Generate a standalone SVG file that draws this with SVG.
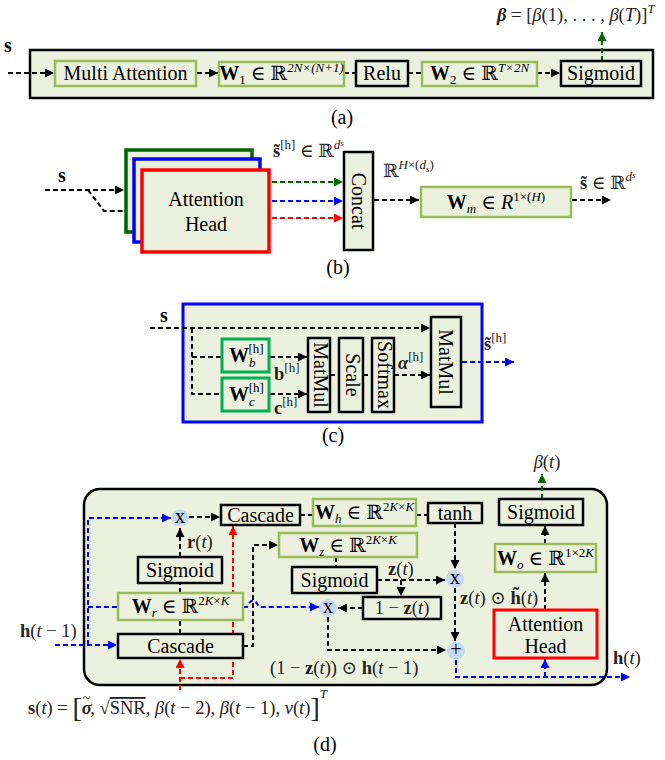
<svg xmlns="http://www.w3.org/2000/svg" width="665" height="760" viewBox="0 0 665 760" font-family="'Liberation Serif', 'DejaVu Serif', serif">
<defs>
<style>
.blk{fill:#ebf1de;stroke:#000;stroke-width:2.5}
.grn{fill:#ebf1de;stroke:#9bbb59;stroke-width:2.5}
.gr2{fill:#ebf1de;stroke:#00b050;stroke-width:3}
.t{font-family:'Liberation Serif','DejaVu Serif',serif;font-size:20px;fill:#000}
.m{font-family:'Liberation Serif','DejaVu Serif',serif;font-size:18.5px;fill:#222}
.c{text-anchor:middle}
.d{fill:none;stroke:#000;stroke-width:2;stroke-dasharray:5 3}
.dg{fill:none;stroke:#006400;stroke-width:2;stroke-dasharray:5 3}
.db{fill:none;stroke:#0000ff;stroke-width:2;stroke-dasharray:5 3}
.dr{fill:none;stroke:#ff0000;stroke-width:2;stroke-dasharray:5 3}
.circ{fill:#c6d9f1}
.b{font-weight:bold}
.i{font-style:italic}
.s{font-size:13px}
</style>
<marker id="ak" viewBox="0 0 10 10" refX="10" refY="5" markerWidth="10" markerHeight="9" markerUnits="userSpaceOnUse" orient="auto"><path d="M0,0 L10,5 L0,10 z" fill="#000"/></marker>
<marker id="ag" viewBox="0 0 10 10" refX="10" refY="5" markerWidth="10" markerHeight="9" markerUnits="userSpaceOnUse" orient="auto"><path d="M0,0 L10,5 L0,10 z" fill="#006400"/></marker>
<marker id="ab" viewBox="0 0 10 10" refX="10" refY="5" markerWidth="10" markerHeight="9" markerUnits="userSpaceOnUse" orient="auto"><path d="M0,0 L10,5 L0,10 z" fill="#0000ff"/></marker>
<marker id="ar" viewBox="0 0 10 10" refX="10" refY="5" markerWidth="10" markerHeight="9" markerUnits="userSpaceOnUse" orient="auto"><path d="M0,0 L10,5 L0,10 z" fill="#ff0000"/></marker>
</defs>
<rect width="665" height="760" fill="#fff"/>

<!-- ===== Panel (a) ===== -->
<g id="a-frame"><rect x="30" y="50" width="623" height="48" class="blk" stroke-width="2"/></g>
<g id="a-connectors">
<line x1="8" y1="73" x2="54" y2="73" class="d" marker-end="url(#ak)"/>
<line x1="197" y1="73" x2="218" y2="73" class="d" marker-end="url(#ak)"/>
<line x1="344" y1="73" x2="356" y2="73" class="d"/>
<line x1="408" y1="73" x2="422" y2="73" class="d"/>
<line x1="537" y1="73" x2="560" y2="73" class="d" marker-end="url(#ak)"/>
<line x1="602" y1="61" x2="602" y2="32" class="dg" marker-end="url(#ag)"/>
</g>
<g id="a-s"><text x="4" y="52" class="t b">s</text></g>
<g id="a-multi"><rect x="55" y="61" width="141" height="25" class="grn" stroke-width="3"/><text x="125.5" y="80" class="t c">Multi Attention</text></g>
<g id="a-w1"><rect x="219" y="62" width="125" height="24" class="grn" stroke-width="2"/><text x="281.5" y="80" class="t c"><tspan class="b">W</tspan><tspan class="s" dy="4">1</tspan><tspan dy="-4"> ∈ ℝ</tspan><tspan class="s i" dy="-8">2N×(N+1)</tspan></text></g>
<g id="a-relu"><rect x="356" y="61" width="52" height="25" class="blk"/><text x="382" y="80" class="t c">Relu</text></g>
<g id="a-w2"><rect x="422" y="62" width="115" height="24" class="grn" stroke-width="2"/><text x="479.5" y="80" class="t c"><tspan class="b">W</tspan><tspan class="s" dy="4">2</tspan><tspan dy="-4"> ∈ ℝ</tspan><tspan class="s i" dy="-8">T×2N</tspan></text></g>
<g id="a-sigmoid"><rect x="561" y="61" width="80" height="25" class="blk"/><text x="601" y="80" class="t c">Sigmoid</text></g>
<g id="a-beta"><text x="497" y="21" class="m"><tspan class="b i">β</tspan> = [<tspan class="i">β</tspan>(1), . . . , <tspan class="i">β</tspan>(<tspan class="i">T</tspan>)]<tspan class="s i" dy="-8">T</tspan></text></g>
<text x="342" y="124" class="t c" font-size="19">(a)</text>

<!-- ===== Panel (b) ===== -->
<g id="b-connectors">
<line x1="45" y1="190" x2="124" y2="190" class="d" marker-end="url(#ak)"/>
<polyline points="88,190 104,211 141,211" class="d" marker-end="url(#ak)"/>
<line x1="272" y1="182" x2="343" y2="182" class="dg" marker-end="url(#ag)"/>
<line x1="272" y1="201" x2="343" y2="201" class="db" marker-end="url(#ab)"/>
<line x1="272" y1="218" x2="343" y2="218" class="dr" marker-end="url(#ar)"/>
<line x1="374" y1="200" x2="419" y2="200" class="d" marker-end="url(#ak)"/>
<line x1="572" y1="200" x2="611" y2="200" class="d" marker-end="url(#ak)"/>
</g>
<g id="b-s"><text x="58" y="182" class="t b">s</text></g>
<g id="b-heads">
<rect x="126" y="150" width="126" height="82" fill="#ebf1de" stroke="#006400" stroke-width="3.5"/>
<rect x="134" y="159" width="126" height="83" fill="#ebf1de" stroke="#0000ff" stroke-width="3.5"/>
<rect x="142" y="170" width="127" height="82" fill="#ebf1de" stroke="#ff0000" stroke-width="3.5"/>
<text x="206" y="206" class="t c" font-size="21">Attention</text>
<text x="206" y="231" class="t c" font-size="21">Head</text>
</g>
<g id="b-lbl1"><text x="273" y="157" class="m"><tspan class="b">s̃</tspan><tspan class="s" dy="-8">[h]</tspan><tspan dy="8"> ∈ ℝ</tspan><tspan class="s i" dy="-8">d<tspan font-size="9" dy="-3">s</tspan></tspan></text></g>
<g id="b-concat"><rect x="344" y="152" width="29" height="98" class="blk" stroke-width="3"/><text transform="translate(358.5,201) rotate(90)" x="0" y="7" class="t c" font-size="22">Concat</text></g>
<g id="b-lbl2"><text x="383" y="177" class="m">ℝ<tspan class="s i" dy="-8">H</tspan><tspan class="s">×(</tspan><tspan class="s i">d</tspan><tspan font-size="9" class="i" dy="3">s</tspan><tspan class="s" dy="-3">)</tspan></text></g>
<g id="b-wm"><rect x="421" y="187" width="150" height="30" class="grn" stroke-width="3"/><text x="496" y="209" class="t c"><tspan class="b">W</tspan><tspan class="s i" dy="4">m</tspan><tspan dy="-4"> ∈ </tspan><tspan class="i">R</tspan><tspan class="s" dy="-8">1×(</tspan><tspan class="s i">H</tspan><tspan class="s">)</tspan></text></g>
<g id="b-lbl3"><text x="580" y="189" class="m"><tspan class="b">s̃</tspan> ∈ ℝ<tspan class="s i" dy="-8">d<tspan font-size="9" dy="-3">s</tspan></tspan></text></g>
<text x="338" y="274" class="t c" font-size="19">(b)</text>

<!-- ===== Panel (c) ===== -->
<g id="c-frame"><rect x="183" y="304" width="299" height="118" fill="#ebf1de" stroke="#0000ff" stroke-width="3"/></g>
<g id="c-connectors">
<line x1="150" y1="328" x2="430" y2="328" class="d" marker-end="url(#ak)"/>
<polyline points="192,328 192,394 222,394" class="d"/>
<line x1="192" y1="357" x2="222" y2="357" class="d"/>
<line x1="270" y1="357" x2="307" y2="357" class="d" marker-end="url(#ak)"/>
<line x1="270" y1="394" x2="307" y2="394" class="d" marker-end="url(#ak)"/>
<line x1="330" y1="375" x2="339" y2="375" class="d"/>
<line x1="363" y1="375" x2="372" y2="375" class="d"/>
<line x1="394" y1="375" x2="430" y2="375" class="d" marker-end="url(#ak)"/>
<line x1="462" y1="362" x2="514" y2="362" class="db" marker-end="url(#ab)"/>
</g>
<g id="c-s"><text x="160" y="322" class="t b">s</text></g>
<g id="c-wb"><rect x="222" y="339" width="47" height="33" class="gr2"/><text x="229" y="362" class="t"><tspan class="b">W</tspan><tspan class="s i" dy="5">b</tspan><tspan class="s" dx="-7" dy="-14">[h]</tspan></text></g>
<g id="c-wc"><rect x="222" y="378" width="47" height="33" class="gr2"/><text x="229" y="401" class="t"><tspan class="b">W</tspan><tspan class="s i" dy="5">c</tspan><tspan class="s" dx="-6" dy="-14">[h]</tspan></text></g>
<g id="c-lbls">
<text x="274" y="380" class="m"><tspan class="b">b</tspan><tspan class="s" dy="-8">[h]</tspan></text>
<text x="274" y="414" class="m"><tspan class="b">c</tspan><tspan class="s" dy="-8">[h]</tspan></text>
<text x="398" y="369" class="m"><tspan class="b i">α</tspan><tspan class="s" dy="-8">[h]</tspan></text>
<text x="484" y="350" class="m"><tspan class="b">s̃</tspan><tspan class="s" dy="-8">[h]</tspan></text>
</g>
<g id="c-matmul1"><rect x="308" y="338" width="22" height="74" class="blk" stroke-width="3"/><text transform="translate(319,375) rotate(90)" y="5.5" class="t c" font-size="16">MatMul</text></g>
<g id="c-scale"><rect x="339" y="338" width="24" height="74" class="blk" stroke-width="3"/><text transform="translate(351,375) rotate(90)" y="5.5" class="t c" font-size="16">Scale</text></g>
<g id="c-softmax"><rect x="372" y="338" width="22" height="74" class="blk" stroke-width="3"/><text transform="translate(383,375) rotate(90)" y="5.5" class="t c" font-size="16">Softmax</text></g>
<g id="c-matmul2"><rect x="431" y="317" width="30" height="90" class="blk" stroke-width="3"/><text transform="translate(446,362) rotate(90)" y="7" class="t c" font-size="20">MatMul</text></g>
<text x="333" y="442" class="t c" font-size="19">(c)</text>

<!-- ===== Panel (d) ===== -->
<g id="d-frame"><rect x="84" y="489" width="523" height="196" rx="16" class="blk" stroke-width="1.5"/></g>
<g id="d-connectors">
<line x1="189" y1="517" x2="220" y2="517" class="d" marker-end="url(#ak)"/>
<line x1="300" y1="515" x2="313" y2="515" class="d"/>
<line x1="416" y1="515" x2="428" y2="515" class="d"/>
<line x1="455" y1="523" x2="455" y2="569" class="d" marker-end="url(#ak)"/>
<line x1="180" y1="634" x2="180" y2="620" class="d"/>
<line x1="180" y1="593" x2="180" y2="583" class="d"/>
<line x1="180" y1="557" x2="180" y2="528" class="d" marker-end="url(#ak)"/>
<polyline points="243,646 253,646 253,545 278,545" class="d" marker-end="url(#ak)"/>
<line x1="336" y1="557" x2="336" y2="567" class="d"/>
<line x1="377" y1="580" x2="445" y2="580" class="d" marker-end="url(#ak)"/>
<line x1="401" y1="580" x2="401" y2="596" class="d" marker-end="url(#ak)"/>
<line x1="363" y1="608" x2="338" y2="608" class="d" marker-end="url(#ak)"/>
<polyline points="328,617 328,650 446,650" class="d" marker-end="url(#ak)"/>
<line x1="455" y1="588" x2="455" y2="641" class="d" marker-end="url(#ak)"/>
<line x1="545" y1="610" x2="545" y2="573" class="d" marker-end="url(#ak)"/>
<line x1="545" y1="544" x2="545" y2="526" class="d" marker-end="url(#ak)"/>
<line x1="542" y1="499" x2="542" y2="474" class="dg" marker-end="url(#ag)"/>
<line x1="55" y1="645" x2="117" y2="645" class="db" marker-end="url(#ab)"/>
<polyline points="88,645 88,518 171,518" class="db" marker-end="url(#ab)"/>
<line x1="88" y1="607" x2="118" y2="607" class="db"/>
<path d="M243,607 L247,607 Q253,594 259,607 L319,607" class="db" marker-end="url(#ab)"/>
<polyline points="456,660 456,677 630,677" class="db" marker-end="url(#ab)"/>
<line x1="545" y1="677" x2="545" y2="659" class="db" marker-end="url(#ab)"/>
<line x1="180" y1="690" x2="180" y2="659" class="dr" marker-end="url(#ar)"/>
<polyline points="180,678 233,678 233,526" class="dr" marker-end="url(#ar)"/>
</g>
<g id="d-xr"><circle cx="180" cy="518" r="8.5" class="circ"/><text x="180" y="522.5" class="t c" font-size="14">x</text></g>
<g id="d-cascade-top"><rect x="221" y="505" width="79" height="20" class="blk"/><text x="260.5" y="522" class="t c" font-size="21">Cascade</text></g>
<g id="d-wh"><rect x="313" y="499" width="103" height="27" class="grn"/><text x="364.5" y="519" class="t c"><tspan class="b">W</tspan><tspan class="s i" dy="4">h</tspan><tspan dy="-4"> ∈ ℝ</tspan><tspan class="s" dy="-8">2</tspan><tspan class="s i">K</tspan><tspan class="s">×</tspan><tspan class="s i">K</tspan></text></g>
<g id="d-tanh"><rect x="428" y="503" width="54" height="20" class="blk"/><text x="455" y="520" class="t c" font-size="22">tanh</text></g>
<g id="d-sigmoid-out"><rect x="499" y="499" width="84" height="26" class="blk"/><text x="541" y="519" class="t c" font-size="21">Sigmoid</text></g>
<g id="d-beta"><text x="547" y="468" class="m c"><tspan class="i">β</tspan>(<tspan class="i">t</tspan>)</text></g>
<g id="d-wo"><rect x="495" y="544" width="101" height="28" class="grn"/><text x="545.5" y="565" class="t c"><tspan class="b">W</tspan><tspan class="s i" dy="4">o</tspan><tspan dy="-4"> ∈ ℝ</tspan><tspan class="s" dy="-8">1×2</tspan><tspan class="s i">K</tspan></text></g>
<g id="d-att"><rect x="494" y="610" width="103" height="48" fill="#ebf1de" stroke="#ff0000" stroke-width="3"/><text x="545.5" y="631" class="t c">Attention</text><text x="545.5" y="653" class="t c">Head</text></g>
<g id="d-wz"><rect x="279" y="533" width="138" height="24" class="grn"/><text x="348" y="552" class="t c"><tspan class="b">W</tspan><tspan class="s i" dy="4">z</tspan><tspan dy="-4"> ∈ ℝ</tspan><tspan class="s" dy="-8">2</tspan><tspan class="s i">K</tspan><tspan class="s">×</tspan><tspan class="s i">K</tspan></text></g>
<g id="d-sigmoid-z"><rect x="292" y="567" width="85" height="26" class="blk"/><text x="334.5" y="587" class="t c" font-size="21">Sigmoid</text></g>
<g id="d-xz"><circle cx="455" cy="579" r="9" class="circ"/><text x="455" y="583.5" class="t c" font-size="14">x</text></g>
<g id="d-1mz"><rect x="363" y="597" width="78" height="22" class="blk"/><text x="402" y="614" class="m c">1 − <tspan class="b">z</tspan>(<tspan class="i">t</tspan>)</text></g>
<g id="d-x2"><circle cx="328" cy="608" r="9" class="circ"/><text x="328" y="612.5" class="t c" font-size="14">x</text></g>
<g id="d-plus"><circle cx="456" cy="651" r="9" class="circ"/><text x="456" y="655.5" class="t c" font-size="14">+</text></g>
<g id="d-cascade-bot"><rect x="118" y="634" width="125" height="24" class="blk"/><text x="180.5" y="653" class="t c" font-size="21">Cascade</text></g>
<g id="d-wr"><rect x="118" y="593" width="125" height="27" class="grn"/><text x="180.5" y="613" class="t c"><tspan class="b">W</tspan><tspan class="s i" dy="4">r</tspan><tspan dy="-4"> ∈ ℝ</tspan><tspan class="s" dy="-8">2</tspan><tspan class="s i">K</tspan><tspan class="s">×</tspan><tspan class="s i">K</tspan></text></g>
<g id="d-sigmoid-r"><rect x="138" y="557" width="84" height="26" class="blk"/><text x="180" y="577" class="t c" font-size="21">Sigmoid</text></g>
<g id="d-labels">
<text x="187" y="548" class="m"><tspan class="b">r</tspan>(<tspan class="i">t</tspan>)</text>
<text x="388" y="575" class="m"><tspan class="b">z</tspan>(<tspan class="i">t</tspan>)</text>
<text x="460" y="604" class="m"><tspan class="b">z</tspan>(<tspan class="i">t</tspan>) ⊙ <tspan class="b">h̃</tspan>(<tspan class="i">t</tspan>)</text>
<text x="270" y="674" class="m"><tspan>(1 − </tspan><tspan class="b">z</tspan>(<tspan class="i">t</tspan>)) ⊙ <tspan class="b">h</tspan>(<tspan class="i">t</tspan> − 1)</text>
<text x="20" y="637" class="m" font-size="17"><tspan class="b">h</tspan>(<tspan class="i">t</tspan> − 1)</text>
<text x="613" y="664" class="m"><tspan class="b">h</tspan>(<tspan class="i">t</tspan>)</text>
<text x="28" y="714" class="m"><tspan class="b">s</tspan>(<tspan class="i">t</tspan>) = <tspan font-size="28" dy="3">[</tspan><tspan class="b i" dy="-3">σ</tspan><tspan font-size="14" dx="-9" dy="-11">~</tspan><tspan dy="11">, √</tspan><tspan text-decoration="overline">SNR</tspan>, <tspan class="i">β</tspan>(<tspan class="i">t</tspan> − 2), <tspan class="i">β</tspan>(<tspan class="i">t</tspan> − 1), <tspan class="i">v</tspan>(<tspan class="i">t</tspan>)<tspan font-size="28" dy="3">]</tspan><tspan class="s i" dy="-19">T</tspan></text>
</g>
<text x="325" y="751" class="t c" font-size="19">(d)</text>
</svg>
